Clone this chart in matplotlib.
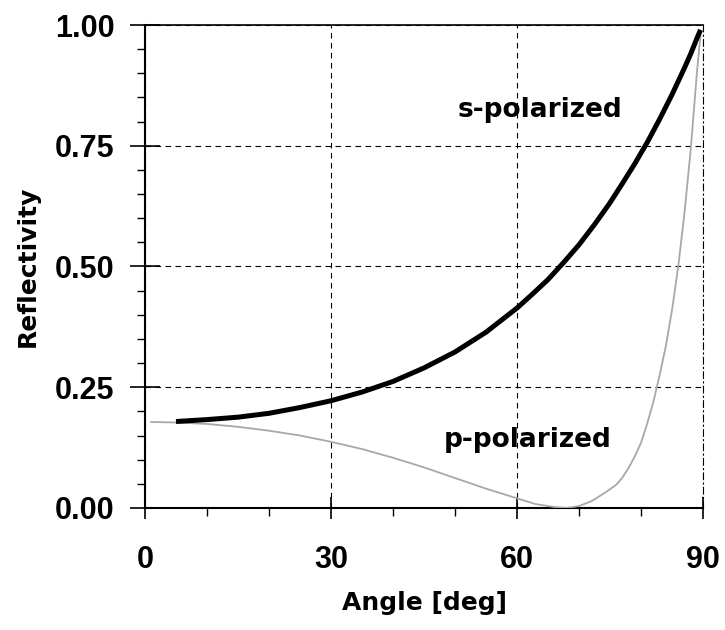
import matplotlib
matplotlib.use("Agg")
import matplotlib.pyplot as plt
from matplotlib.ticker import MultipleLocator

# Data
angle_s = [5, 10, 15, 20, 25, 30, 35, 40, 45, 50, 55, 60, 62.5, 65, 67.5, 70, 72.5,
           75, 77, 79, 81, 83, 85, 87, 88, 89, 89.6]
refl_s = [0.179, 0.183, 0.188, 0.196, 0.208, 0.222, 0.240, 0.262, 0.290, 0.323,
          0.364, 0.414, 0.443, 0.473, 0.508, 0.545, 0.587, 0.632, 0.672, 0.713,
          0.757, 0.805, 0.856, 0.911, 0.940, 0.972, 0.990]

angle_p = [1, 5, 10, 15, 20, 25, 30, 35, 40, 45, 50, 55, 60, 63, 66, 68, 70, 72,
           74, 76, 77, 78, 79, 80, 81, 82, 83, 84, 85, 86, 87, 88, 88.5, 89, 89.6]
refl_p = [0.178, 0.177, 0.174, 0.168, 0.160, 0.150, 0.137, 0.122, 0.104, 0.084,
          0.062, 0.040, 0.020, 0.008, 0.002, 0.000, 0.004, 0.014, 0.030, 0.048,
          0.063, 0.083, 0.107, 0.135, 0.175, 0.220, 0.275, 0.335, 0.410, 0.500,
          0.610, 0.740, 0.820, 0.900, 0.980]

x_ticks = [0, 30, 60, 90]
y_ticks = [0.00, 0.25, 0.50, 0.75, 1.00]
y_tick_labels = ["0.00", "0.25", "0.50", "0.75", "1.00"]

plt.rcParams['font.family'] = ['DejaVu Sans']
plt.rcParams['font.weight'] = 'bold'

fig = plt.figure(figsize=(7.25, 6.3), dpi=100)
ax = fig.add_axes([0.2, 0.1937, 0.7697, 0.7666])

ax.plot(angle_p, refl_p, color='#a8a8a8', lw=1.3, zorder=3)
ax.plot(angle_s, refl_s, color='black', lw=3.6, solid_capstyle='butt', zorder=4)

ax.set_xlim(0, 90)
ax.set_ylim(0, 1.0)
ax.set_xticks(x_ticks)
ax.set_xticklabels([str(v) for v in x_ticks])
ax.set_yticks(y_ticks)
ax.set_yticklabels(y_tick_labels)
ax.xaxis.set_minor_locator(MultipleLocator(10))
ax.yaxis.set_minor_locator(MultipleLocator(0.05))

ax.tick_params(axis='both', which='major', direction='inout', width=1.2, colors='black')
ax.tick_params(axis='x', which='major', length=16, pad=19)
ax.tick_params(axis='y', which='major', length=22, pad=11)
ax.tick_params(axis='both', which='minor', direction='out', length=6, width=1.0)
for lab in ax.get_xticklabels() + ax.get_yticklabels():
    lab.set_fontfamily('Liberation Sans')
    lab.set_fontweight('bold')
    lab.set_fontsize(22)

ax.grid(True, which='major', color='black', lw=0.8, linestyle=(0, (5, 4)))

for side in ['left', 'bottom']:
    ax.spines[side].set_linewidth(1.5)
ax.spines['top'].set_linewidth(1.2)
ax.spines['right'].set_linewidth(0.8)
ax.spines['right'].set_linestyle((0, (6, 3, 1, 3)))

ax.set_xlabel('Angle [deg]', fontsize=18, fontweight='bold', labelpad=11)
ax.set_ylabel('Reflectivity', fontsize=18, fontweight='bold', labelpad=11)

ax.text(63.7, 0.824, 's-polarized', fontsize=19, fontweight='bold',
        ha='center', va='center', zorder=5)
ax.text(61.8, 0.141, 'p-polarized', fontsize=19, fontweight='bold',
        ha='center', va='center', zorder=5)

fig.savefig('out.png', dpi=100)
